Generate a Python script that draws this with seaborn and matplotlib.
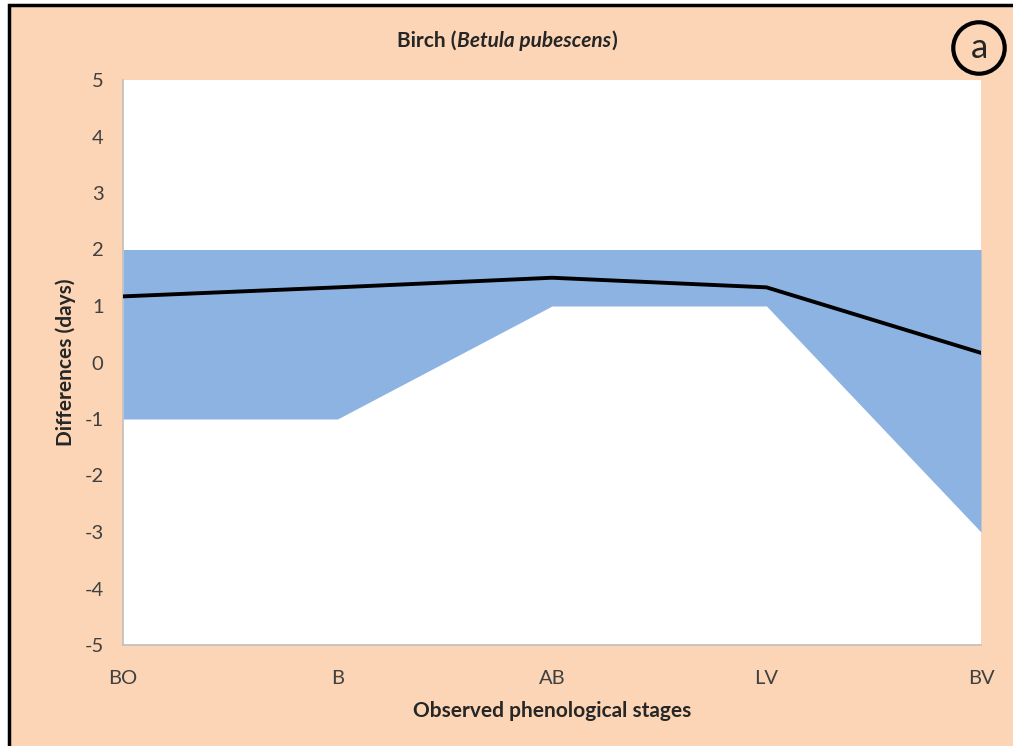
import pandas as pd
import matplotlib.pyplot as plt
import matplotlib.patches as mpatches
import seaborn as sns

# Data
stages = ['BO', 'B', 'AB', 'LV', 'BV']
mean_diff = [1.17, 1.33, 1.5, 1.33, 0.17]
upper_diff = [2, 2, 2, 2, 2]
lower_diff = [-1, -1, 1, 1, -3]

peach = '#FBD5B5'
blue = '#8DB3E2'
grey_text = '#404040'

sns.set_style('white')
plt.rcParams['font.family'] = ['Lato', 'DejaVu Sans']
plt.rcParams['axes.unicode_minus'] = False

df = pd.DataFrame({'stage': stages, 'pos': range(len(stages)),
                   'mean': mean_diff, 'upper': upper_diff, 'lower': lower_diff})

fig = plt.figure(figsize=(10.13, 7.46), dpi=100, facecolor='white')

# peach panel with a black frame
frame = mpatches.Rectangle((9 / 1013, -0.02), 1.0, 1 - 5 / 746 + 0.02,
                           transform=fig.transFigure, facecolor=peach,
                           edgecolor='black', linewidth=2.5, zorder=-10)
fig.patches.append(frame)

ax = fig.add_axes([123 / 1013, 1 - 645 / 746, (981 - 123) / 1013, (645 - 80) / 746])
ax.set_facecolor('white')

ax.fill_between(df['pos'], df['lower'], df['upper'], color=blue, linewidth=0, zorder=1)
sns.lineplot(data=df, x='pos', y='mean', color='black', linewidth=2.8, ax=ax, zorder=3)

ax.set_xlim(0, len(stages) - 1)
ax.set_ylim(-5, 5)
ax.set_yticks(range(-5, 6))
ax.set_xticks(df['pos'])
ax.set_xticklabels(stages)

for side in ['top', 'right']:
    ax.spines[side].set_visible(False)
for side in ['left', 'bottom']:
    ax.spines[side].set_color('#BFBFBF')
    ax.spines[side].set_linewidth(1.2)

ax.tick_params(axis='both', direction='out', length=5, width=1, color='#BFBFBF',
               labelcolor=grey_text, labelsize=14.5)
ax.tick_params(axis='y', pad=9)
ax.tick_params(axis='x', pad=13)

ax.set_xlabel('Observed phenological stages', fontsize=15, fontweight='bold', labelpad=10)
ax.set_ylabel('Differences (days)', fontsize=15, fontweight='bold', labelpad=6)

# title with italic species name
fig.canvas.draw()
renderer = fig.canvas.get_renderer()
parts = [('Birch (', 'normal'), ('Betula pubescens', 'italic'), (')', 'normal')]
widths = []
texts = []
for s, st in parts:
    t = fig.text(0, 0, s, fontsize=15, fontweight='bold', style=st, va='center')
    widths.append(t.get_window_extent(renderer).width)
    texts.append(t)
x0 = 507 - sum(widths) / 2
y0 = 1 - 41 / 746
for t, w in zip(texts, widths):
    t.set_position((x0 / 1013, y0))
    x0 += w

# panel letter in a circle
fig.text(979 / 1013, 1 - 48 / 746, 'a', fontsize=25, ha='center', va='center',
         bbox=dict(boxstyle='circle,pad=0.28', fc='none', ec='black', lw=3))

plt.savefig('out.png', dpi=100, facecolor=fig.get_facecolor())
